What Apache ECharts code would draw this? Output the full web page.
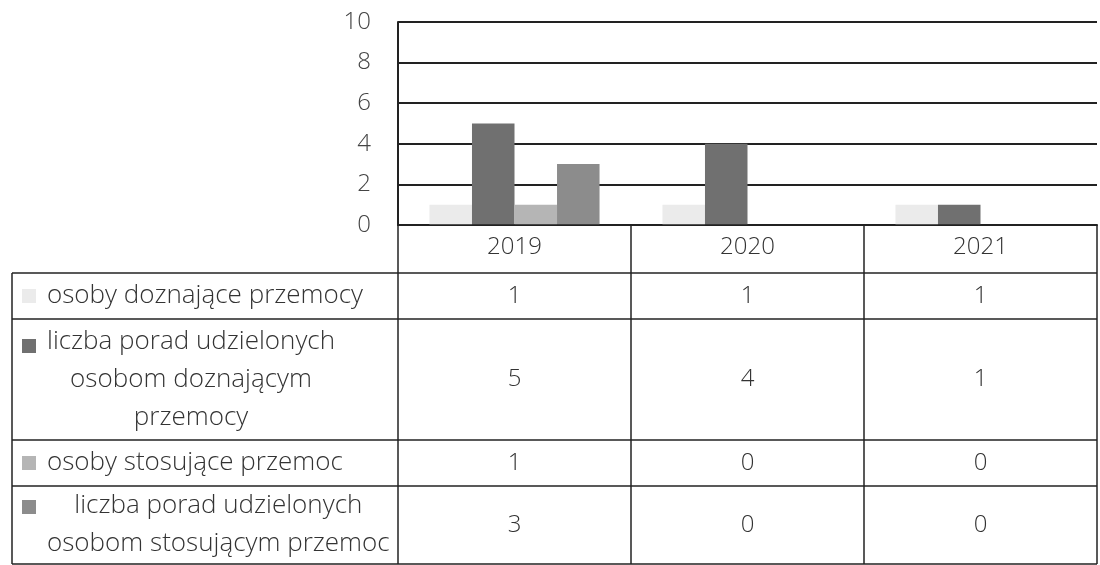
<!DOCTYPE html>
<html>
<head>
<meta charset="utf-8">
<script src="https://cdn.jsdelivr.net/npm/echarts@6/dist/echarts.min.js"></script>
<style>
  html, body { margin: 0; padding: 0; background: #fff; }
  #chart { width: 1100px; height: 565px; }
</style>
</head>
<body>
<div id="chart"></div>
<script>
const years = ["2019", "2020", "2021"];
const seriesNames = [
  "osoby doznające przemocy",
  "liczba porad udzielonych\nosobom doznającym\nprzemocy",
  "osoby stosujące przemoc",
  "liczba porad udzielonych\nosobom stosującym przemoc",
];
const victims = [1, 1, 1];
const victimAdvice = [5, 4, 1];
const perpetrators = [1, 0, 0];
const perpetratorAdvice = [3, 0, 0];
const seriesColors = ["#ebebeb", "#707070", "#b5b5b5", "#8c8c8c"];

const fontFamily = "'Open Sans', 'Noto Sans', sans-serif";
const textColor = "#333";
const lineColor = "#222";
const labelFont = "300 26px " + fontFamily;
const numberFont = "300 24px " + fontFamily;

// table geometry (px)
const tableLeft = 12;
const headerTop = 225;
const rowEdges = [273, 319, 440, 486, 564];
const keyCenters = [296, 346, 463, 507];

const chart = echarts.init(document.getElementById("chart"), null, { renderer: "canvas" });

const allValues = [victims, victimAdvice, perpetrators, perpetratorAdvice];

chart.setOption({
  animation: false,
  grid: { left: 398, right: 3, top: 22, bottom: 340 },
  xAxis: {
    type: "category",
    data: years,
    axisLine: { show: true, lineStyle: { color: lineColor, width: 2 } },
    axisTick: { show: false },
    axisLabel: {
      margin: 10,
      color: textColor,
      fontFamily,
      fontWeight: 300,
      fontSize: 24,
    },
  },
  yAxis: {
    type: "value",
    min: 0,
    max: 10,
    interval: 2,
    axisLine: { show: true, lineStyle: { color: lineColor, width: 2 } },
    axisTick: { show: false },
    splitLine: { lineStyle: { color: lineColor, width: 2 } },
    axisLabel: {
      margin: 27,
      color: "#444",
      fontFamily,
      fontWeight: 300,
      fontSize: 24,
    },
  },
  series: allValues.map((vals, i) => ({
    name: seriesNames[i],
    type: "bar",
    data: vals,
    barGap: "0%",
    barCategoryGap: "27%",
    itemStyle: { color: seriesColors[i] },
  })),
});

function textWidth(str) {
  const ctx = document.createElement("canvas").getContext("2d");
  ctx.font = labelFont;
  return Math.max(...str.split("\n").map((s) => ctx.measureText(s).width));
}

function buildTable() {
  const centers = years.map((y) => chart.convertToPixel({ xAxisIndex: 0 }, y));
  const band = centers[1] - centers[0];
  const colEdges = [centers[0] - band / 2, ...centers.map((c) => c + band / 2)];
  const right = colEdges[colEdges.length - 1];
  const bottomEdge = rowEdges[rowEdges.length - 1];
  const els = [];
  const line = (x1, y1, x2, y2) =>
    els.push({
      type: "line",
      shape: { x1, y1, x2, y2 },
      style: { stroke: lineColor, lineWidth: 1.5 },
      z: 10,
    });

  // verticals
  line(tableLeft, rowEdges[0], tableLeft, bottomEdge);
  line(colEdges[0], headerTop, colEdges[0], bottomEdge);
  colEdges.slice(1).forEach((x) => line(x, headerTop, x, bottomEdge));
  // horizontals
  line(colEdges[0], headerTop, right, headerTop);
  rowEdges.forEach((y) => line(tableLeft, y, right, y));

  seriesNames.forEach((name, i) => {
    const mid = (rowEdges[i] + rowEdges[i + 1]) / 2;
    els.push({
      type: "rect",
      shape: { x: 22, y: keyCenters[i] - 7, width: 14, height: 14 },
      style: { fill: seriesColors[i] },
    });
    els.push({
      type: "text",
      x: 47 + textWidth(name) / 2,
      y: mid,
      style: {
        text: name,
        fill: textColor,
        font: labelFont,
        align: "center",
        verticalAlign: "middle",
        lineHeight: 38,
      },
    });
    allValues[i].forEach((v, j) => {
      els.push({
        type: "text",
        x: centers[j],
        y: mid,
        style: {
          text: String(v),
          fill: textColor,
          font: numberFont,
          align: "center",
          verticalAlign: "middle",
        },
      });
    });
  });
  chart.setOption({ graphic: { elements: els } });
}

buildTable();
</script>
</body>
</html>
